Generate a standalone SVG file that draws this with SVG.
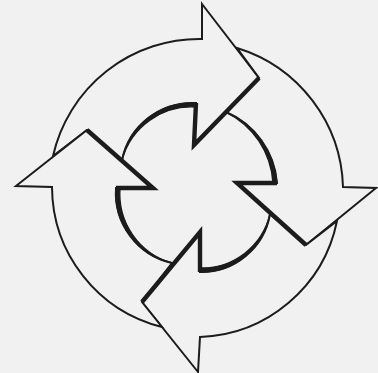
<svg xmlns="http://www.w3.org/2000/svg" width="378" height="373" viewBox="0 0 378 373">
<style>
.bg{fill:#f1f1f1}
.arrow{fill:#f1f1f1;stroke:#1c1c1c;stroke-width:2;stroke-linejoin:miter}
.edge{fill:none;stroke:#1c1c1c;stroke-width:4.4;stroke-linejoin:miter;stroke-linecap:butt}
.shade{fill:#1c1c1c;stroke:#1c1c1c;stroke-width:1.4}
</style>
<rect class="bg" x="0" y="0" width="378" height="373"/>
<g id="arrow-top">
<path class="arrow" d="M202,4 L259,78 L194,145 L196,103 A72 72 0 0 0 122,160 L87,130 L53,156 A150 150 0 0 1 202,39 Z"/>
</g>
<g id="arrow-right">
<path class="arrow" d="M376,188 L306,245 L237,183 L277,183 A85 85 0 0 0 226,112 L259,78 L237,48 A150 150 0 0 1 343,187 Z"/>
</g>
<g id="arrow-bottom">
<path class="arrow" d="M198,372 L142,302 L200,232 L200,272 A70 70 0 0 0 270,214 L306,245 L337,221 A145 145 0 0 1 200,337 Z"/>
</g>
<g id="arrow-left">
<path class="arrow" d="M16,186 L87,130 L153,188 L116,188 A72 72 0 0 0 172,263 L142,302 L162,327 A145 145 0 0 1 52,187 Z"/>
</g>
<g id="connectors">
<path class="edge" d="M259,78 L194,145 L196,103"/>
<path class="edge" d="M306,245 L237,183 L277,183"/>
<path class="edge" d="M142,302 L200,232 L200,272"/>
<path class="edge" d="M87,130 L153,188 L116,188"/>
<path class="shade" d="M196,103 A72 72 0 0 0 122,160 A72 72 0 0 1 196,107 Z"/>
<path class="shade" d="M277,183 A85 85 0 0 0 226,112 A85 85 0 0 1 273,183 Z"/>
<path class="shade" d="M200,272 A70 70 0 0 0 270,214 A70 70 0 0 1 200,268 Z"/>
<path class="shade" d="M116,188 A72 72 0 0 0 172,263 A72 72 0 0 1 120,188 Z"/>
</g>
</svg>
